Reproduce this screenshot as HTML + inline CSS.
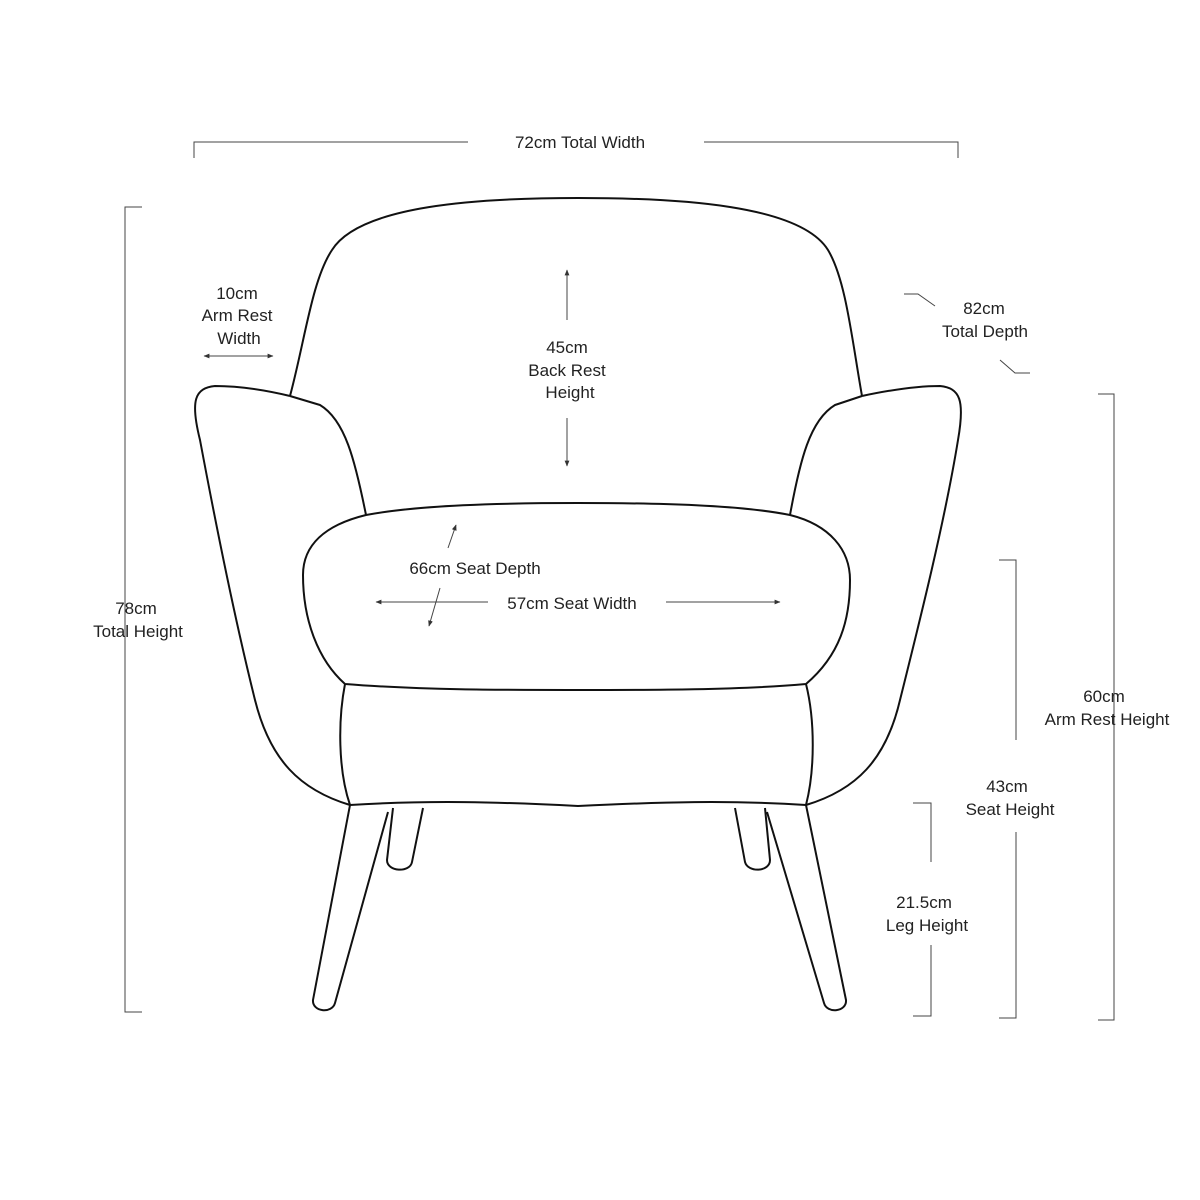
<!DOCTYPE html>
<html><head><meta charset="utf-8"><style>
html,body{margin:0;padding:0;background:#fff;}
svg{display:block}
text{font-family:"Liberation Sans",sans-serif;font-size:17px;fill:#222;text-anchor:middle}
</style></head><body>
<svg width="1200" height="1200" viewBox="0 0 1200 1200" xmlns="http://www.w3.org/2000/svg">
<defs><marker id="a" viewBox="0 0 10 10" refX="9" refY="5" markerWidth="6" markerHeight="6" orient="auto-start-reverse"><path d="M0,1 L10,5 L0,9 z" fill="#333"/></marker></defs>
<g fill="none" stroke="#111" stroke-width="2" stroke-linejoin="round">
<!-- backrest -->
<path d="M290,396 C305,340 312,280 332,250 C360,205 480,198 578,198 C680,198 800,205 828,250 C846,280 852,340 862,396"/>
<!-- left arm -->
<path d="M290,396 L320,405 C345,420 355,460 366,515"/>
<path d="M350,805 C300,790 270,760 255,700 C235,620 215,520 200,440 C190,400 195,388 215,386 C240,386 265,390 290,396"/>
<!-- right arm -->
<path d="M862,396 L835,405 C810,420 800,460 790,515"/>
<path d="M806,805 C856,790 886,760 900,700 C920,620 945,520 958,440 C965,400 960,388 940,386 C915,386 890,390 862,396"/>
<!-- seat cushion -->
<path d="M366,515 C420,505 500,503 578,503 C660,503 740,505 790,515 C830,525 850,550 850,580 C850,620 840,655 806,684 C740,690 650,690 578,690 C500,690 420,690 345,684 C318,660 303,620 303,575 C303,545 325,525 366,515 Z"/>
<!-- base -->
<path d="M345,684 C338,720 338,770 350,805 C430,800 500,802 578,806 C660,802 730,800 806,805 C815,770 815,720 806,684"/>
<!-- legs -->
<path d="M350,805 L313,1000 C312,1012 332,1014 335,1003 L388,812"/>
<path d="M393,808 L387,860 C387,872 410,873 412,862 L423,808"/>
<path d="M806,805 L846,1000 C847,1012 827,1014 824,1003 L767,812"/>
<path d="M765,808 L770,860 C770,872 748,873 745,862 L735,808"/>
</g>
<g fill="none" stroke="#444" stroke-width="1">
<path d="M194,158 V142 H468 M704,142 H958 V158"/>
<path d="M142,207 H125 V1012 H142"/>
<path d="M1098,394 H1114 V1020 H1098"/>
<path d="M999,560 H1016 V740 M1016,832 V1018 H999"/>
<path d="M913,803 H931 V862 M931,945 V1016 H913"/>
<path d="M904,294 H918 L935,306 M1000,360 L1015,373 H1030"/>
<path d="M567,270 V320 M567,418 V466" marker-start="url(#a)" marker-end="url(#a)"/>
<path d="M204,356 H273" marker-start="url(#a)" marker-end="url(#a)"/>
<path d="M376,602 H488 M666,602 H780" marker-start="url(#a)" marker-end="url(#a)"/>
<path d="M448,548 L456,525" marker-end="url(#a)"/>
<path d="M440,588 L429,626" marker-end="url(#a)"/>
</g>
<text x="580" y="148">72cm Total Width</text>
<text x="237" y="299">10cm</text><text x="237" y="321">Arm Rest</text><text x="239" y="344">Width</text>
<text x="567" y="353">45cm</text><text x="567" y="376">Back Rest</text><text x="570" y="398">Height</text>
<text x="984" y="314">82cm</text><text x="985" y="337">Total Depth</text>
<text x="136" y="614">78cm</text><text x="138" y="637">Total Height</text>
<text x="475" y="574">66cm Seat Depth</text>
<text x="572" y="609">57cm Seat Width</text>
<text x="1104" y="702">60cm</text><text x="1107" y="725">Arm Rest Height</text>
<text x="1007" y="792">43cm</text><text x="1010" y="815">Seat Height</text>
<text x="924" y="908">21.5cm</text><text x="927" y="931">Leg Height</text>
</svg>
</body></html>
